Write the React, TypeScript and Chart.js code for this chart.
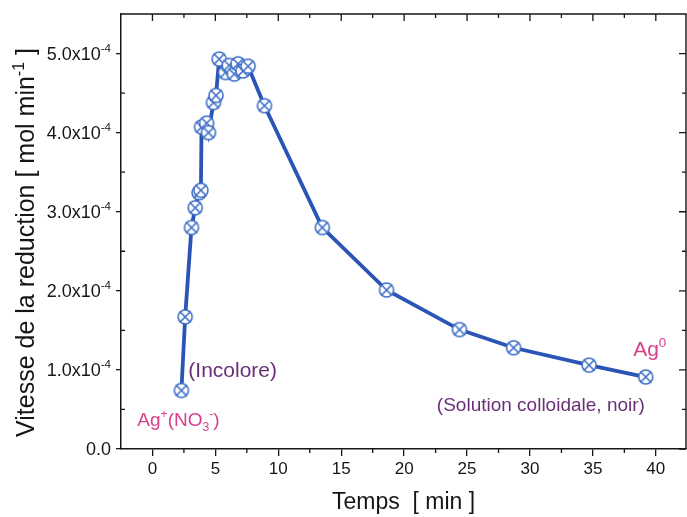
import React, { useEffect, useRef } from 'react';
import { Chart, registerables } from 'chart.js';

Chart.register(...registerables);

// Reaction time (min) and reduction rate (mol/min)
const timeMin = [
  2.3, 2.6, 3.1, 3.4, 3.7, 3.85, 3.9, 4.3, 4.45, 4.85, 5.05, 5.3, 5.8, 6.1, 6.5, 6.8, 7.2, 7.6,
  8.9, 13.5, 18.6, 24.4, 28.7, 34.7, 39.2,
];
const rate = [
  0.74e-4, 1.67e-4, 2.80e-4, 3.05e-4, 3.24e-4, 3.27e-4, 4.07e-4, 4.12e-4, 4.0e-4, 4.38e-4, 4.47e-4,
  4.93e-4, 4.76e-4, 4.85e-4, 4.74e-4, 4.87e-4, 4.78e-4, 4.84e-4, 4.34e-4, 2.80e-4, 2.01e-4,
  1.51e-4, 1.28e-4, 1.06e-4, 0.91e-4,
];

const xTickValues = [0, 5, 10, 15, 20, 25, 30, 35, 40];
const xMinorValues = [2.5, 7.5, 12.5, 17.5, 22.5, 27.5, 32.5, 37.5];
const yTickValues = [0, 1e-4, 2e-4, 3e-4, 4e-4, 5e-4];
const yMinorValues = [0.5e-4, 1.5e-4, 2.5e-4, 3.5e-4, 4.5e-4];
const yTickBase = ['0.0', '1.0x10', '2.0x10', '3.0x10', '4.0x10', '5.0x10'];
const yTickExp = ['', '-4', '-4', '-4', '-4', '-4'];

const FONT = '"Liberation Sans", Arial, Helvetica, sans-serif';
const INK = '#161616';
const LINE_BLUE = '#2a55b6';
const MARK_BLUE = '#3d6ec6';
const PURPLE = '#6b2f78';
const PINK = '#d8408c';

type Part = { t: string; m?: 'sup' | 'sub' };

function drawRich(
  ctx: CanvasRenderingContext2D,
  parts: Part[],
  x: number,
  y: number,
  size: number,
  align: 'left' | 'center' | 'right',
  color: string,
) {
  const small = size * 0.64;
  const widths = parts.map((p) => {
    ctx.font = `${p.m ? small : size}px ${FONT}`;
    return ctx.measureText(p.t).width;
  });
  const total = widths.reduce((a, b) => a + b, 0);
  let cx = align === 'left' ? x : align === 'center' ? x - total / 2 : x - total;
  ctx.fillStyle = color;
  ctx.textAlign = 'left';
  ctx.textBaseline = 'alphabetic';
  parts.forEach((p, i) => {
    ctx.font = `${p.m ? small : size}px ${FONT}`;
    const dy = p.m === 'sup' ? -size * 0.42 : p.m === 'sub' ? size * 0.28 : 0;
    ctx.fillText(p.t, cx, y + dy);
    cx += widths[i];
  });
}

function makeMarker(r: number, color: string): HTMLCanvasElement {
  const size = Math.ceil(r * 2 + 4);
  const c = document.createElement('canvas');
  c.width = size;
  c.height = size;
  const g = c.getContext('2d') as CanvasRenderingContext2D;
  const m = size / 2;
  g.fillStyle = '#ffffff';
  g.strokeStyle = color;
  g.lineWidth = 1.6;
  g.beginPath();
  g.arc(m, m, r, 0, Math.PI * 2);
  g.fill();
  g.stroke();
  const d = r * 0.78;
  g.beginPath();
  g.moveTo(m - d, m - d);
  g.lineTo(m + d, m + d);
  g.moveTo(m + d, m - d);
  g.lineTo(m - d, m + d);
  g.stroke();
  return c;
}

// Frame, minor ticks, y labels with exponents, axis title and text notes
const decorations = {
  id: 'decorations',
  afterDatasetsDraw(chart: any) {
    const { ctx, chartArea: a, scales } = chart;
    const xs = scales.x;
    const ys = scales.y;
    ctx.save();
    ctx.strokeStyle = INK;
    ctx.lineWidth = 1.4;
    ctx.beginPath();
    ctx.moveTo(a.left, a.top);
    ctx.lineTo(a.right, a.top);
    ctx.lineTo(a.right, a.bottom);
    ctx.stroke();

    ctx.lineWidth = 1.3;
    ctx.beginPath();
    xTickValues.forEach((v) => {
      const px = xs.getPixelForValue(v);
      ctx.moveTo(px, a.top);
      ctx.lineTo(px, a.top + 7);
    });
    xMinorValues.forEach((v) => {
      const px = xs.getPixelForValue(v);
      ctx.moveTo(px, a.bottom);
      ctx.lineTo(px, a.bottom + 4);
      ctx.moveTo(px, a.top);
      ctx.lineTo(px, a.top + 4);
    });
    yTickValues.forEach((v) => {
      const py = ys.getPixelForValue(v);
      ctx.moveTo(a.right, py);
      ctx.lineTo(a.right - 7, py);
    });
    yMinorValues.forEach((v) => {
      const py = ys.getPixelForValue(v);
      ctx.moveTo(a.left, py);
      ctx.lineTo(a.left + 4, py);
      ctx.moveTo(a.right, py);
      ctx.lineTo(a.right - 4, py);
    });
    ctx.stroke();

    // y tick labels
    yTickValues.forEach((v, i) => {
      const py = ys.getPixelForValue(v);
      const parts: Part[] = [{ t: yTickBase[i] }];
      if (yTickExp[i]) parts.push({ t: yTickExp[i], m: 'sup' });
      drawRich(ctx, parts, a.left - 10, py + 6, 18, 'right', INK);
    });

    // y axis title
    ctx.save();
    ctx.translate(34, (a.top + a.bottom) / 2 + 11);
    ctx.rotate(-Math.PI / 2);
    drawRich(
      ctx,
      [{ t: 'Vitesse de la reduction [ mol min' }, { t: '-1', m: 'sup' }, { t: ' ]' }],
      0,
      0,
      25,
      'center',
      INK,
    );
    ctx.restore();

    // notes
    const at = (x: number, y: number) => [xs.getPixelForValue(x), ys.getPixelForValue(y)];
    let p = at(2.85, 1.0e-4);
    drawRich(ctx, [{ t: '(Incolore)' }], p[0], p[1] + 7, 21, 'left', PURPLE);
    p = at(-1.2, 0.37e-4);
    drawRich(
      ctx,
      [{ t: 'Ag' }, { t: '+', m: 'sup' }, { t: '(NO' }, { t: '3', m: 'sub' }, { t: '-', m: 'sup' }, { t: ')' }],
      p[0],
      p[1] + 6,
      19,
      'left',
      PINK,
    );
    p = at(22.6, 0.57e-4);
    drawRich(ctx, [{ t: '(Solution colloidale, noir)' }], p[0], p[1] + 7, 19, 'left', PURPLE);
    p = at(38.2, 1.28e-4);
    drawRich(ctx, [{ t: 'Ag' }, { t: '0', m: 'sup' }], p[0], p[1] + 8, 21, 'left', PINK);
    ctx.restore();
  },
};

export default function App() {
  const ref = useRef<HTMLCanvasElement | null>(null);

  useEffect(() => {
    if (!ref.current) return;
    const marker = makeMarker(7, MARK_BLUE);
    const chart = new Chart(ref.current, {
      type: 'line',
      data: {
        datasets: [
          {
            data: timeMin.map((t, i) => ({ x: t, y: rate[i] })),
            borderColor: LINE_BLUE,
            borderWidth: 3.8,
            tension: 0,
            pointStyle: marker as any,
            pointRadius: 7,
            fill: false,
          },
        ],
      },
      options: {
        animation: false,
        responsive: false,
        layout: { autoPadding: false, padding: { top: 14, right: 1, left: 0, bottom: 0 } },
        plugins: { legend: { display: false }, tooltip: { enabled: false } },
        scales: {
          x: {
            type: 'linear',
            min: -2.5,
            max: 42.4,
            afterBuildTicks: (s: any) => {
              s.ticks = xTickValues.map((v) => ({ value: v }));
            },
            afterFit: (s: any) => {
              s.height = 68;
            },
            grid: { drawOnChartArea: false, drawTicks: true, tickLength: 7, color: INK, lineWidth: 1.3 },
            border: { display: true, color: INK, width: 1.5 },
            ticks: { font: { family: FONT, size: 17 }, color: INK, padding: 3, maxRotation: 0 },
            title: {
              display: true,
              text: 'Temps  [ min ]',
              font: { family: FONT, size: 23 },
              color: INK,
              padding: { top: 0, bottom: 1 },
            },
          },
          y: {
            type: 'linear',
            min: 0,
            max: 5.5e-4,
            afterBuildTicks: (s: any) => {
              s.ticks = yTickValues.map((v) => ({ value: v }));
            },
            afterFit: (s: any) => {
              s.width = 121;
            },
            grid: { drawOnChartArea: false, drawTicks: true, tickLength: 5, color: INK, lineWidth: 1.3 },
            border: { display: true, color: INK, width: 1.5 },
            ticks: { display: false },
          },
        },
      },
      plugins: [decorations],
    });
    return () => chart.destroy();
  }, []);

  return (
    <div style={{ position: 'absolute', left: 0, top: 0, width: 687, height: 517, background: '#fff' }}>
      <canvas ref={ref} width={687} height={517} style={{ display: 'block' }} />
    </div>
  );
}
